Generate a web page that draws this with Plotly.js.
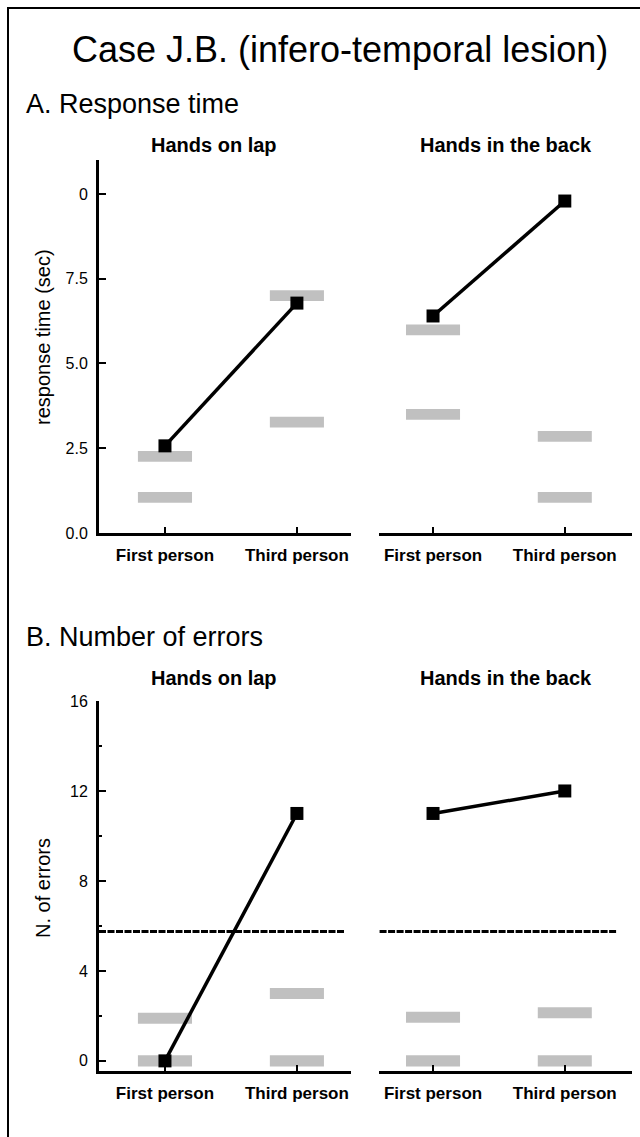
<!DOCTYPE html>
<html><head><meta charset="utf-8">
<script src="https://cdn.plot.ly/plotly-3.0.1.min.js"></script>
<style>html,body{margin:0;padding:0;background:#fff}</style>
</head><body><div id="chart" style="width:640px;height:1137px"></div>
<script>
// ---- data ----
const categories = ["First person", "Third person"];
// A. Response time (sec)
const rtLapPatient   = [2.57, 6.78];
const rtLapCtrlHigh  = [2.26, 7.0];
const rtLapCtrlLow   = [1.05, 3.27];
const rtBackPatient  = [6.4, 9.79];
const rtBackCtrlHigh = [5.99, 2.85];
const rtBackCtrlLow  = [3.5, 1.05];
// B. Number of errors
const errLapPatient   = [0, 11];
const errLapCtrlHigh  = [1.9, 3.0];
const errLapCtrlLow   = [0, 0];
const errBackPatient  = [11, 12];
const errBackCtrlHigh = [1.94, 2.14];
const errBackCtrlLow  = [0, 0];
const errCutoff = 5.75;
// tick labels
const rtTickVals = [0, 2.5, 5, 7.5, 10];
const rtTickText = ["0.0", "2.5", "5.0", "7.5", "0"];
const errTickVals = [0, 4, 8, 12, 16];
const errTickText = ["0", "4", "8", "12", "16"];
const errMinorVals = [2, 6, 10, 14];

// ---- helpers ----
const FONT = "Liberation Sans, Arial, Helvetica, sans-serif";
const H = 1137, W = 640;
const py = p => 1 - p / H;
const px = p => p / W;

function ctrl(vals, h, xa, ya) {
  return {type: 'bar', x: categories, y: vals.map(() => h), base: vals.map(v => v - h / 2),
    width: 0.41, marker: {color: '#c0c0c0', line: {width: 0}}, xaxis: xa, yaxis: ya,
    showlegend: false, hoverinfo: 'skip'};
}
function patient(vals, xa, ya) {
  return {type: 'scatter', mode: 'lines+markers', x: categories, y: vals,
    line: {color: '#000', width: 3.5}, marker: {symbol: 'square', size: 13, color: '#000'},
    xaxis: xa, yaxis: ya, showlegend: false, cliponaxis: false, hoverinfo: 'skip'};
}

const hA = 0.32, hB = 0.49;
const data = [
  ctrl(rtLapCtrlHigh, hA, 'x', 'y'), ctrl(rtLapCtrlLow, hA, 'x', 'y'), patient(rtLapPatient, 'x', 'y'),
  ctrl(rtBackCtrlHigh, hA, 'x2', 'y2'), ctrl(rtBackCtrlLow, hA, 'x2', 'y2'), patient(rtBackPatient, 'x2', 'y2'),
  ctrl(errLapCtrlHigh, hB, 'x3', 'y3'), ctrl(errLapCtrlLow, hB, 'x3', 'y3'), patient(errLapPatient, 'x3', 'y3'),
  ctrl(errBackCtrlHigh, hB, 'x4', 'y4'), ctrl(errBackCtrlLow, hB, 'x4', 'y4'), patient(errBackPatient, 'x4', 'y4')
];

const xBase = {type: 'category', showline: true, linecolor: '#000', linewidth: 3,
  ticks: 'inside', ticklen: 6, tickwidth: 2, tickcolor: '#000',
  tickfont: {family: FONT, size: 17, color: '#000', weight: 'bold'}, ticklabelstandoff: 5,
  showgrid: false, zeroline: false, fixedrange: true};
const yBase = {showline: true, linecolor: '#000', linewidth: 3, ticks: 'inside', ticklen: 7,
  tickwidth: 2, tickcolor: '#000', tickfont: {family: FONT, size: 16, color: '#000'},
  ticklabelstandoff: 5, showgrid: false, zeroline: false, fixedrange: true};

const domLeft = [px(99), px(351)], domRight = [px(379), px(632)];
const domA = [py(533), py(160)], domB = [py(1071), py(701)];

const layout = {
  width: W, height: H, margin: {l: 0, r: 0, t: 0, b: 0},
  paper_bgcolor: '#fff', plot_bgcolor: 'rgba(0,0,0,0)', barmode: 'overlay', showlegend: false,
  font: {family: FONT, color: '#000'},
  xaxis:  Object.assign({}, xBase, {domain: domLeft,  range: [-0.5, 1.41], anchor: 'y'}),
  xaxis2: Object.assign({}, xBase, {domain: domRight, range: [-0.41, 1.51], anchor: 'y2'}),
  xaxis3: Object.assign({}, xBase, {domain: domLeft,  range: [-0.5, 1.41], anchor: 'y3'}),
  xaxis4: Object.assign({}, xBase, {domain: domRight, range: [-0.41, 1.51], anchor: 'y4'}),
  yaxis:  Object.assign({}, yBase, {domain: domA, range: [0, 11], anchor: 'x', tickvals: rtTickVals, ticktext: rtTickText}),
  yaxis2: {domain: domA, range: [0, 11], anchor: 'x2', visible: false, fixedrange: true},
  yaxis3: Object.assign({}, yBase, {domain: domB, range: [-0.45, 16], anchor: 'x3', tickvals: errTickVals, ticktext: errTickText,
    minor: {tickvals: errMinorVals, ticks: 'inside', ticklen: 3, tickwidth: 2, tickcolor: '#000'}}),
  yaxis4: {domain: domB, range: [-0.45, 16], anchor: 'x4', visible: false, fixedrange: true},
  shapes: [
    {type: 'line', xref: 'paper', yref: 'paper', x0: px(8), x1: px(8), y0: 0, y1: py(8), line: {color: '#000', width: 2}},
    {type: 'line', xref: 'paper', yref: 'paper', x0: px(7), x1: 1, y0: py(8), y1: py(8), line: {color: '#000', width: 2}},
    {type: 'line', xref: 'x3', yref: 'y3', x0: -0.5, x1: 1.36, y0: errCutoff, y1: errCutoff, line: {color: '#000', width: 3, dash: '7px,1.5px'}},
    {type: 'line', xref: 'x4', yref: 'y4', x0: -0.47, x1: 1.39, y0: errCutoff, y1: errCutoff, line: {color: '#000', width: 3, dash: '7px,1.5px'}}
  ],
  annotations: [
    {text: 'Case J.B. (infero-temporal lesion)', xref: 'paper', yref: 'paper', x: px(340), y: py(50), xanchor: 'center', yanchor: 'middle', showarrow: false, font: {family: FONT, size: 36, color: '#000'}},
    {text: 'A. Response time', xref: 'paper', yref: 'paper', x: px(24), y: py(104), xanchor: 'left', yanchor: 'middle', showarrow: false, font: {family: FONT, size: 27, color: '#000'}},
    {text: 'B. Number of errors', xref: 'paper', yref: 'paper', x: px(24), y: py(637), xanchor: 'left', yanchor: 'middle', showarrow: false, font: {family: FONT, size: 27, color: '#000'}},
    {text: 'Hands on lap', xref: 'paper', yref: 'paper', x: px(214), y: py(145), xanchor: 'center', yanchor: 'middle', showarrow: false, font: {family: FONT, size: 20, color: '#000', weight: 'bold'}},
    {text: 'Hands in the back', xref: 'paper', yref: 'paper', x: px(506), y: py(145), xanchor: 'center', yanchor: 'middle', showarrow: false, font: {family: FONT, size: 20, color: '#000', weight: 'bold'}},
    {text: 'Hands on lap', xref: 'paper', yref: 'paper', x: px(214), y: py(678), xanchor: 'center', yanchor: 'middle', showarrow: false, font: {family: FONT, size: 20, color: '#000', weight: 'bold'}},
    {text: 'Hands in the back', xref: 'paper', yref: 'paper', x: px(506), y: py(678), xanchor: 'center', yanchor: 'middle', showarrow: false, font: {family: FONT, size: 20, color: '#000', weight: 'bold'}},
    {text: 'response time (sec)', xref: 'paper', yref: 'paper', x: px(43), y: py(337), xanchor: 'center', yanchor: 'middle', textangle: -90, showarrow: false, font: {family: FONT, size: 20, color: '#000'}},
    {text: 'N. of errors', xref: 'paper', yref: 'paper', x: px(43), y: py(888), xanchor: 'center', yanchor: 'middle', textangle: -90, showarrow: false, font: {family: FONT, size: 20, color: '#000'}}
  ]
};

Plotly.newPlot('chart', data, layout, {staticPlot: true, displayModeBar: false});
</script>
</body></html>
